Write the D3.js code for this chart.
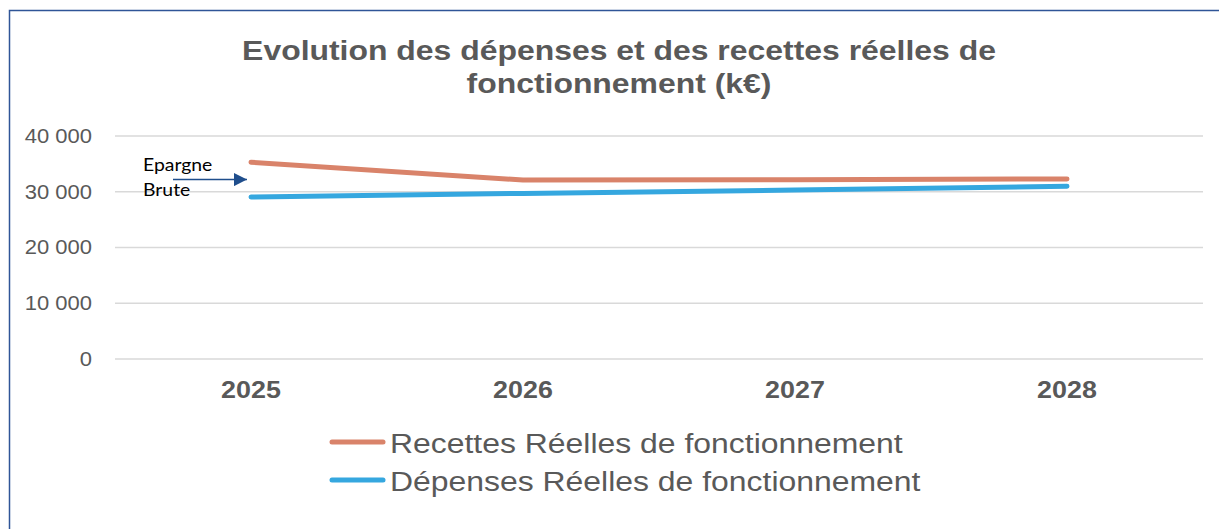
<!DOCTYPE html>
<html>
<head>
<meta charset="utf-8">
<script src="https://cdn.jsdelivr.net/npm/d3@7/dist/d3.min.js"></script>
<style>
  html, body { margin: 0; padding: 0; background: #fff; }
  svg { display: block; }
</style>
</head>
<body>
<svg id="chart" width="1219" height="529"></svg>
<script>
const titleLines = ["Evolution des dépenses et des recettes réelles de", "fonctionnement (k€)"];
const categories = ["2025", "2026", "2027", "2028"];
const recettes = [35300, 32100, 32150, 32300];
const depenses = [29050, 29700, 30300, 31000];
const yTicks = [0, 10000, 20000, 30000, 40000];
const seriesNames = ["Recettes Réelles de fonctionnement", "Dépenses Réelles de fonctionnement"];
const annotationLines = ["Epargne", "Brute"];

const colors = ["#D9836A", "#35A7DF"];
const W = 1219, H = 529;
const SX = 1.14; // horizontal stretch of the original rendering
const svg = d3.select("#chart");

// outer frame (top and left edges visible)
svg.append("rect")
  .attr("x", 9.5).attr("y", 10.5)
  .attr("width", W + 20).attr("height", H + 20)
  .attr("fill", "#fff")
  .attr("stroke", "#2F5597").attr("stroke-width", 1.5);

// title
svg.append("text")
  .attr("transform", `translate(619,0) scale(${SX},1)`)
  .attr("text-anchor", "middle")
  .attr("font-family", "'Liberation Sans', Arial, sans-serif")
  .attr("font-weight", "bold")
  .attr("font-size", 28)
  .attr("fill", "#595959")
  .selectAll("tspan").data(titleLines).join("tspan")
  .attr("x", 0)
  .attr("y", (d, i) => 60 + i * 33)
  .text(d => d);

const plot = { left: 115, right: 1203, top: 136, bottom: 359 };

const x = d3.scaleBand().domain(categories).range([plot.left, plot.right]);
const y = d3.scaleLinear().domain([0, 40000]).range([plot.bottom, plot.top]);

const fmt = v => d3.format(",")(v).replace(/,/g, " ");

// gridlines
svg.append("g").selectAll("line").data(yTicks).join("line")
  .attr("x1", plot.left).attr("x2", plot.right)
  .attr("y1", d => y(d)).attr("y2", d => y(d))
  .attr("stroke", "#D9D9D9").attr("stroke-width", 1.5);

// y axis labels
const yAxis = d3.axisLeft(y).tickValues(yTicks).tickFormat(fmt).tickSize(0).tickPadding(0);
const gy = svg.append("g").attr("transform", `translate(${plot.left},0)`).call(yAxis);
gy.select(".domain").remove();
gy.selectAll("text")
  .attr("font-family", "'Liberation Sans', Arial, sans-serif")
  .attr("font-size", 20)
  .attr("fill", "#595959")
  .attr("x", 0)
  .attr("transform", "translate(-23,0) scale(1.1,1)");

// x axis labels
const xAxis = d3.axisBottom(x).tickSize(0).tickPadding(0);
const gx = svg.append("g").attr("transform", `translate(0,${plot.bottom})`).call(xAxis);
gx.select(".domain").remove();
gx.selectAll("text")
  .attr("font-family", "'Liberation Sans', Arial, sans-serif")
  .attr("font-weight", "bold")
  .attr("font-size", 24)
  .attr("fill", "#595959")
  .attr("dy", null)
  .attr("y", 39)
  .attr("transform", "scale(1.12,1)");

// lines
const line = d3.line()
  .x((d, i) => x(categories[i]) + x.bandwidth() / 2)
  .y(d => y(d));

[recettes, depenses].forEach((s, k) => {
  svg.append("path")
    .datum(s)
    .attr("d", line)
    .attr("fill", "none")
    .attr("stroke", colors[k])
    .attr("stroke-width", 5)
    .attr("stroke-linecap", "round")
    .attr("stroke-linejoin", "round");
});

// annotation
svg.append("defs").append("marker")
  .attr("id", "arrow")
  .attr("viewBox", "0 0 10 10")
  .attr("refX", 10).attr("refY", 5)
  .attr("markerWidth", 15).attr("markerHeight", 13)
  .attr("markerUnits", "userSpaceOnUse")
  .attr("orient", "auto")
  .append("path").attr("d", "M0,0 L10,5 L0,10 Z").attr("fill", "#1F4E8C");

const annoY = (y(recettes[0]) + y(depenses[0])) / 2;
svg.append("line")
  .attr("x1", 173).attr("x2", x(categories[0]) + x.bandwidth() / 2 - 4)
  .attr("y1", annoY).attr("y2", annoY)
  .attr("stroke", "#1F4E8C").attr("stroke-width", 1.5)
  .attr("marker-end", "url(#arrow)");

svg.append("text")
  .attr("transform", `translate(143,0) scale(${SX},1)`)
  .attr("font-family", "Lato, 'Open Sans', sans-serif")
  .attr("font-size", 17)
  .attr("fill", "#000")
  .selectAll("tspan").data(annotationLines).join("tspan")
  .attr("x", 0)
  .attr("y", (d, i) => 171 + i * 25)
  .text(d => d);

// legend
const legend = svg.append("g");
seriesNames.forEach((name, k) => {
  const ly = 442 + k * 38;
  legend.append("line")
    .attr("x1", 332).attr("x2", 383)
    .attr("y1", ly).attr("y2", ly)
    .attr("stroke", colors[k]).attr("stroke-width", 5)
    .attr("stroke-linecap", "round");
  legend.append("text")
    .attr("transform", `translate(390,${ly + 11}) scale(${SX},1)`)
    .attr("font-family", "'Liberation Sans', Arial, sans-serif")
    .attr("font-size", 28)
    .attr("fill", "#595959")
    .text(name);
});
</script>
</body>
</html>
